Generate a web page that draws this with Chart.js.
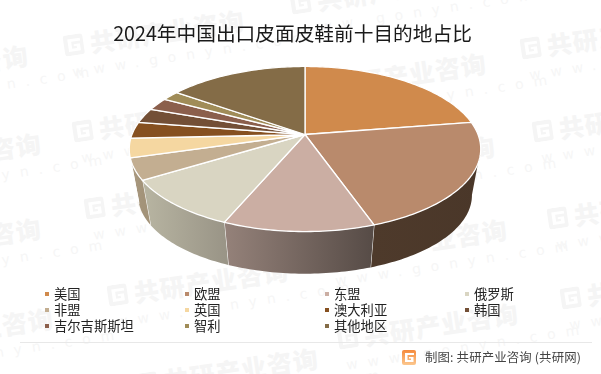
<!DOCTYPE html>
<html>
<head>
<meta charset="utf-8">
<script src="https://cdn.jsdelivr.net/npm/chart.js@4/dist/chart.umd.min.js"></script>
<style>
  html, body { margin: 0; padding: 0; background: #fff; }
  body { position: relative; width: 601px; height: 374px; overflow: hidden; font-family: "Noto Sans CJK SC", sans-serif; }
  #chart { position: absolute; left: 0; top: 0; }
  .mark { position: absolute; transform-origin: 0 50%; transform: rotate(-8.6deg); color: #f5f5f5; white-space: nowrap; line-height: 1; }
  .mark svg { position: absolute; left: 0; top: 2px; }
  .mark b { display: block; font-size: 25px; font-weight: 900; letter-spacing: 1px; margin-left: 28px; }
  .mark i { display: block; font: 400 14px "DejaVu Sans", sans-serif; letter-spacing: 10px; margin: 6px 0 0 6px; color: #f6f6f6; }
  .item { position: absolute; font-size: 13.3px; line-height: 16px; color: #222; white-space: nowrap; }
  .dot { position: absolute; width: 4px; height: 4px; }
  #rule { position: absolute; left: 20px; top: 342px; width: 572px; height: 1px; background: #e8e8e8; }
  #source { position: absolute; left: 425px; top: 349px; font-size: 12.4px; line-height: 16px; color: #444; white-space: nowrap; letter-spacing: 0.15px; }
  #logo { position: absolute; left: 402px; top: 350px; }
</style>
</head>
<body>
<canvas id="chart" width="601" height="374"></canvas>
<div id="rule"></div>
<svg id="logo" width="14" height="15" viewBox="0 0 14 15">
  <defs><linearGradient id="lg" x1="0" y1="0" x2="0" y2="1"><stop offset="0" stop-color="#f58a3c"/><stop offset="1" stop-color="#fcc78e"/></linearGradient></defs>
  <rect width="14" height="15" rx="2" fill="url(#lg)"/>
  <path d="M3 3h9v2H5.500v5H9V8.500H7V7h4.500v5H3z" fill="#fff"/>
</svg>
<div id="source">制图: 共研产业咨询 (共研网)</div>
<script>
// データ
const titleText = '2024年中国出口皮面皮鞋前十目的地占比';
const categories = ['美国', '欧盟', '东盟', '俄罗斯', '非盟', '英国', '澳大利亚', '韩国', '吉尔吉斯斯坦', '智利', '其他地区'];
const shares = [22.5, 22.1, 11.8, 9.9, 4.2, 3.8, 3.2, 2.9, 2.5, 1.9, 15.2];
const colors = ['#d08a4c', '#b98a6c', '#cbaea3', '#d9d5c2', '#c3ae91', '#f5d7a1', '#865020', '#734f36', '#8b5f4c', '#a08c58', '#846c47'];
// 側面の色 (左, 右)
const wallLeft = ['#4a3729', '#4e3a2b', '#95827a', '#b8b5a2', '#ab9b82', '#ab9b82', '#4a3729', '#4a3729', '#4a3729', '#4a3729', '#4a3729'];
const wallRight = ['#4a3729', '#4a3729', '#564b46', '#9a9587', '#a39379', '#ab9b82', '#4a3729', '#4a3729', '#4a3729', '#4a3729', '#4a3729'];

// 透視の設定
const hubX = 305, hubY = 134.5, radiusX = 173, radiusY = 80, tilt = 0.1757;
const baseScale = 0.95, baseDrop = 47;

function project(angle, scale = 1, drop = 0) {
    const w = 1 - tilt * Math.sin(angle);
    return {
        x: hubX + scale * radiusX * Math.cos(angle) / w,
        y: hubY + scale * radiusY * Math.sin(angle) / w + drop
    };
}

function rimPath(ctx, from, to, scale, drop) {
    const steps = Math.max(2, Math.ceil(Math.abs(to - from) / 0.02));
    for (let i = 0; i <= steps; i++) {
        const p = project(from + (to - from) * i / steps, scale, drop);
        ctx.lineTo(p.x, p.y);
    }
}

// 円弧の上面を透視で描く要素
class TiltArc extends Chart.ArcElement {
    static id = 'tiltArc';
    draw(ctx) {
        const { startAngle, endAngle, options } = this;
        ctx.save();
        ctx.beginPath();
        ctx.moveTo(hubX, hubY);
        rimPath(ctx, startAngle, endAngle, 1, 0);
        ctx.closePath();
        ctx.fillStyle = options.backgroundColor;
        ctx.fill();
        ctx.strokeStyle = options.borderColor;
        ctx.lineWidth = options.borderWidth;
        ctx.lineJoin = 'round';
        ctx.stroke();
        ctx.restore();
    }
}

class TiltPieController extends Chart.PieController {
    static id = 'tiltPie';
    static defaults = { dataElementType: 'tiltArc' };
}

Chart.register(TiltArc, TiltPieController);

// 手前に見える側面
const pieWalls = {
    id: 'pieWalls',
    beforeDatasetsDraw(chart) {
        const ctx = chart.ctx;
        const lo = 10 * Math.PI / 180, hi = 165 * Math.PI / 180;
        chart.getDatasetMeta(0).data.forEach((arc, i) => {
            const from = Math.max(arc.startAngle, lo);
            const to = Math.min(arc.endAngle, hi);
            if (from >= to) return;
            const a = project(to), b = project(from);
            const grad = ctx.createLinearGradient(a.x, 0, b.x, 0);
            grad.addColorStop(0, wallLeft[i]);
            grad.addColorStop(1, wallRight[i]);
            ctx.save();
            ctx.beginPath();
            rimPath(ctx, from, to, 1, 0);
            rimPath(ctx, to, from, baseScale, baseDrop);
            ctx.closePath();
            ctx.fillStyle = grad;
            ctx.fill();
            ctx.strokeStyle = '#fff';
            ctx.lineWidth = 1;
            ctx.beginPath();
            const p = project(to), q = project(to, baseScale, baseDrop);
            ctx.moveTo(p.x, p.y);
            ctx.lineTo(q.x, q.y);
            ctx.stroke();
            ctx.restore();
        });
    }
};

new Chart(document.getElementById('chart').getContext('2d'), {
    type: 'tiltPie',
    data: {
        labels: categories,
        datasets: [{
            data: shares,
            backgroundColor: colors,
            borderColor: '#fff',
            borderWidth: 1.3
        }]
    },
    options: {
        responsive: false,
        animation: false,
        events: [],
        layout: { padding: { right: 16, top: 22 } },
        plugins: {
            legend: { display: false },
            tooltip: { enabled: false },
            title: {
                display: true,
                text: titleText,
                fullSize: false,
                color: '#1a1a1a',
                font: { family: '"Noto Sans CJK SC"', size: 19.7, weight: '400' },
                padding: 0
            }
        }
    },
    plugins: [pieWalls]
});

// 凡例 (4列)
categories.forEach((name, i) => {
    const col = i % 4, row = Math.floor(i / 4);
    const dot = document.createElement('div');
    dot.className = 'dot';
    dot.style.left = (45 + col * 140) + 'px';
    dot.style.top = (292 + row * 16) + 'px';
    dot.style.background = colors[i];
    const item = document.createElement('div');
    item.className = 'item';
    item.style.left = (54 + col * 140) + 'px';
    item.style.top = (286 + row * 16) + 'px';
    item.textContent = name;
    document.body.appendChild(dot);
    document.body.appendChild(item);
});

// 透かし
const marks = [[-140, 82], [-127, 170], [-127, 255], [-115, 345], [76, 47], [85, 133], [97, 210], [120, 297], [150, 385],
    [303, 5], [318, 90], [327, 173], [339, 256], [350, 340], [533, 50], [545, 133], [560, 220], [573, 300]];
marks.forEach(([x, y]) => {
    const m = document.createElement('div');
    m.className = 'mark';
    m.style.left = (x - 12) + 'px';
    m.style.top = (y - 13) + 'px';
    m.innerHTML = '<svg width="23" height="21" viewBox="0 0 14 15"><path fill-rule="evenodd" fill="#f5f5f5" d="M2 0h10a2 2 0 0 1 2 2v11a2 2 0 0 1-2 2H2a2 2 0 0 1-2-2V2a2 2 0 0 1 2-2zM3 3v9h8.500V7H7v1.500h2V10H5.500V5H12V3z"/></svg>'
        + '<b>共研产业咨询</b><i>www.gonyn.com</i>';
    document.body.insertBefore(m, document.body.firstChild);
});
</script>
</body>
</html>
